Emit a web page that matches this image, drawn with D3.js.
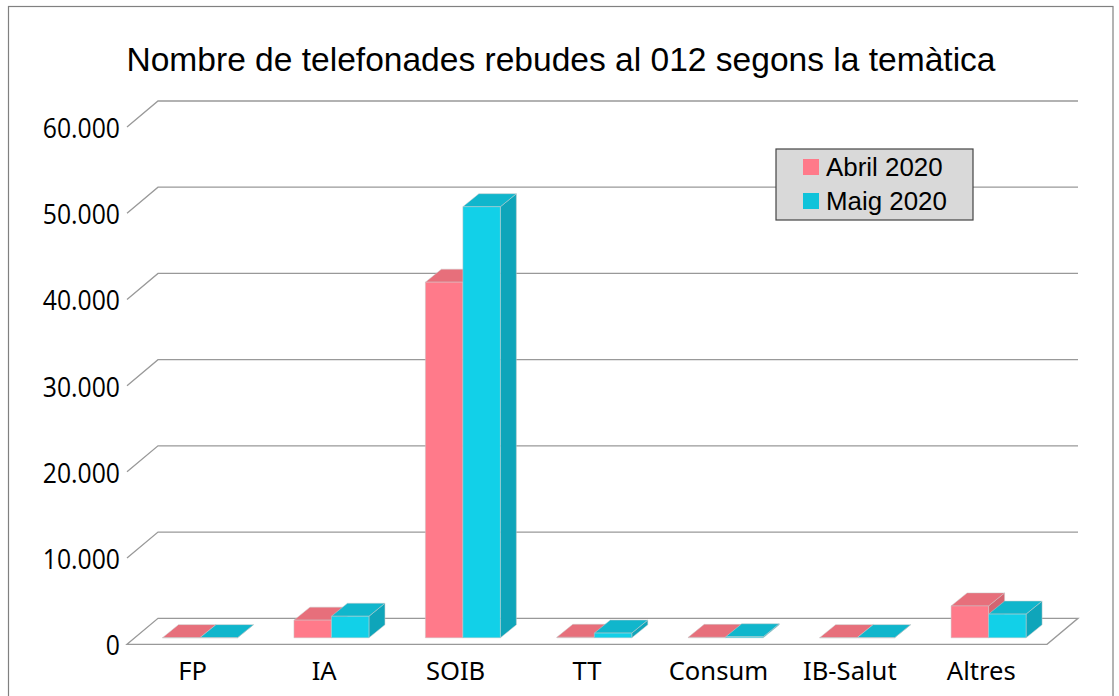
<!DOCTYPE html>
<html><head><meta charset="utf-8">
<script src="https://cdnjs.cloudflare.com/ajax/libs/d3/7.8.5/d3.min.js"></script>
<style>html,body{margin:0;padding:0;background:#fff;overflow:hidden}svg{display:block}</style>
</head><body><svg id="c" width="1119" height="696"></svg>
<script>
const categories = ["FP","IA","SOIB","TT","Consum","IB-Salut","Altres"];
const seriesNames = ["Abril 2020","Maig 2020"];
const abril = [20,2050,41250,60,50,20,3700];
const maig = [20,2500,50000,550,120,20,2750];
const yTicks = [0,10000,20000,30000,40000,50000,60000];
const tickLabels = ["0","10.000","20.000","30.000","40.000","50.000","60.000"];
const title = "Nombre de telefonades rebudes al 012 segons la temàtica";

const frontCol = ["#ff7a8a","#12d0e8"], topCol = ["#e76f7b","#10b6cc"], sideCol = ["#d46571","#0fa5ba"];
const svg = d3.select("#c");
const L=127,R=1047,Y0=644.3,Y60=127,DX=31,DY=26;
const x = d3.scaleBand().domain(categories).range([L,R]);
const y = d3.scaleLinear().domain([0,60000]).range([Y0,Y60]);

svg.append("rect").attr("x",8.5).attr("y",6.5).attr("width",1104.5).attr("height",720).attr("fill","#fff").attr("stroke","#808080").attr("stroke-width",1.2);

const grid = "#999";
svg.append("path").attr("d",`M${L},${Y0}L${L+DX},${Y0-DY}L${R+DX},${Y0-DY}L${R},${Y0}Z`).attr("fill","#fff").attr("stroke",grid).attr("stroke-width",1.3);
svg.selectAll(".g").data(yTicks.slice(1)).join("path").attr("fill","none").attr("stroke",grid).attr("stroke-width",1.3)
  .attr("d",d=>`M${L},${y(d)}L${L+DX},${y(d)-DY}L${R+DX},${y(d)-DY}`);

const bw = 37.5, dx=16, dy=13, ox=7.3, oy=6.5;
function bar(v,i,s){
  const x0 = x(categories[i])+x.bandwidth()/2+ox-bw+s*bw, x1=x0+bw, yb=y(0)-oy, yt=y(v)-oy;
  const g=svg.append("g").attr("stroke","#c9c9c9").attr("stroke-width",0.5).attr("stroke-linejoin","round");
  g.append("path").attr("fill",sideCol[s]).attr("d",`M${x1},${yb}L${x1+dx},${yb-dy}L${x1+dx},${yt-dy}L${x1},${yt}Z`);
  g.append("path").attr("fill",topCol[s]).attr("d",`M${x0},${yt}L${x0+dx},${yt-dy}L${x1+dx},${yt-dy}L${x1},${yt}Z`);
  g.append("rect").attr("fill",frontCol[s]).attr("x",x0).attr("y",yt).attr("width",bw).attr("height",yb-yt);
}
categories.forEach((c,i)=>{bar(abril[i],i,0);bar(maig[i],i,1);});

svg.append("text").attr("x",561).attr("y",71).attr("text-anchor","middle").attr("font-family","Liberation Sans").attr("font-size",33.55).attr("fill","#000").text(title);

svg.selectAll(".yl").data(yTicks).join("text").attr("transform",d=>`translate(120,${y(d)+11}) scale(0.9,1)`).attr("text-anchor","end")
  .attr("font-family","Open Sans").attr("font-size",27.5).attr("fill","#000").text((d,i)=>tickLabels[i]);
svg.selectAll(".xl").data(categories).join("text").attr("x",d=>x(d)+x.bandwidth()/2).attr("y",680).attr("text-anchor","middle")
  .attr("font-family","Noto Sans").attr("font-size",25.6).attr("fill","#000").text(d=>d);

svg.append("rect").attr("x",776).attr("y",149).attr("width",197).attr("height",71).attr("fill","#d9d9d9").attr("stroke","#444").attr("stroke-width",1.2);
seriesNames.forEach((n,i)=>{
  const ly=[159,193][i];
  svg.append("rect").attr("x",803).attr("y",ly).attr("width",16).attr("height",16).attr("fill",i?"#10c3da":"#ff7a8a");
  svg.append("text").attr("x",826).attr("y",ly+17).attr("font-family","Liberation Sans").attr("font-size",25.9).attr("fill","#000").text(n);
});
</script></body></html>
